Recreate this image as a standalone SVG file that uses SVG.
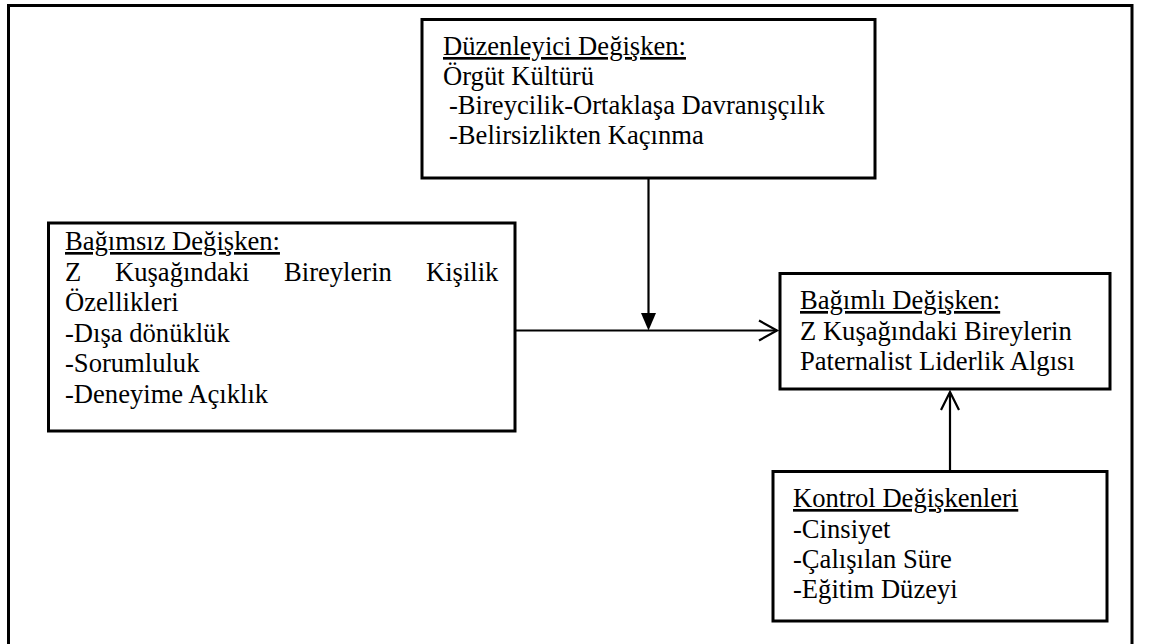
<svg xmlns="http://www.w3.org/2000/svg" width="1152" height="644" viewBox="0 0 1152 644">
  <style>
    .box { fill: #ffffff; stroke: #000000; stroke-width: 3; }
    .t { font-family: "Liberation Serif", "Times New Roman", serif; font-size: 26.6px; fill: #000000; }
    .u { text-decoration: underline; }
    .ln { stroke: #000000; stroke-width: 2.2; fill: none; }
  </style>
  <rect x="0" y="0" width="1152" height="644" fill="#ffffff"/>
  <path d="M8.5,650 L8.5,5.5 L1132,5.5 L1132,650" fill="none" stroke="#000" stroke-width="3"/>

  <g id="connectors">
    <line class="ln" x1="648.5" y1="178" x2="648.5" y2="316"/>
    <polygon points="641,313 656,313 648.5,330.5" fill="#000"/>
    <line class="ln" x1="515" y1="330.5" x2="777" y2="330.5"/>
    <polyline class="ln" points="759,320.5 777,330.5 759,340.5"/>
    <line class="ln" x1="950" y1="471" x2="950" y2="393"/>
    <polyline class="ln" points="941,410 950,392 959,410"/>
  </g>

  <g id="moderator">
    <rect class="box" x="422" y="19.5" width="453" height="158.5"/>
    <text class="t u" x="443" y="55">Düzenleyici Değişken:</text>
    <text class="t" x="443" y="84.5">Örgüt Kültürü</text>
    <text class="t" x="449" y="114">-Bireycilik-Ortaklaşa Davranışçılık</text>
    <text class="t" x="449" y="143.5">-Belirsizlikten Kaçınma</text>
  </g>

  <g id="independent">
    <rect class="box" x="48.5" y="223" width="466.5" height="208"/>
    <text class="t u" x="65" y="250">Bağımsız Değişken:</text>
    <text class="t" y="280.5"><tspan x="65">Z</tspan><tspan x="115">Kuşağındaki</tspan><tspan x="284">Bireylerin</tspan><tspan x="426">Kişilik</tspan></text>
    <text class="t" x="65" y="311">Özellikleri</text>
    <text class="t" x="65" y="341.5">-Dışa dönüklük</text>
    <text class="t" x="65" y="372">-Sorumluluk</text>
    <text class="t" x="65" y="402.5">-Deneyime Açıklık</text>
  </g>

  <g id="dependent">
    <rect class="box" x="780" y="273.5" width="330" height="115.5"/>
    <text class="t u" x="800" y="309">Bağımlı Değişken:</text>
    <text class="t" x="800" y="340">Z Kuşağındaki Bireylerin</text>
    <text class="t" x="800" y="370">Paternalist Liderlik Algısı</text>
  </g>

  <g id="control">
    <rect class="box" x="773" y="471.5" width="334" height="149.5"/>
    <text class="t u" x="793" y="507">Kontrol Değişkenleri</text>
    <text class="t" x="793" y="537.5">-Cinsiyet</text>
    <text class="t" x="793" y="567.5">-Çalışılan Süre</text>
    <text class="t" x="793" y="598">-Eğitim Düzeyi</text>
  </g>
</svg>
